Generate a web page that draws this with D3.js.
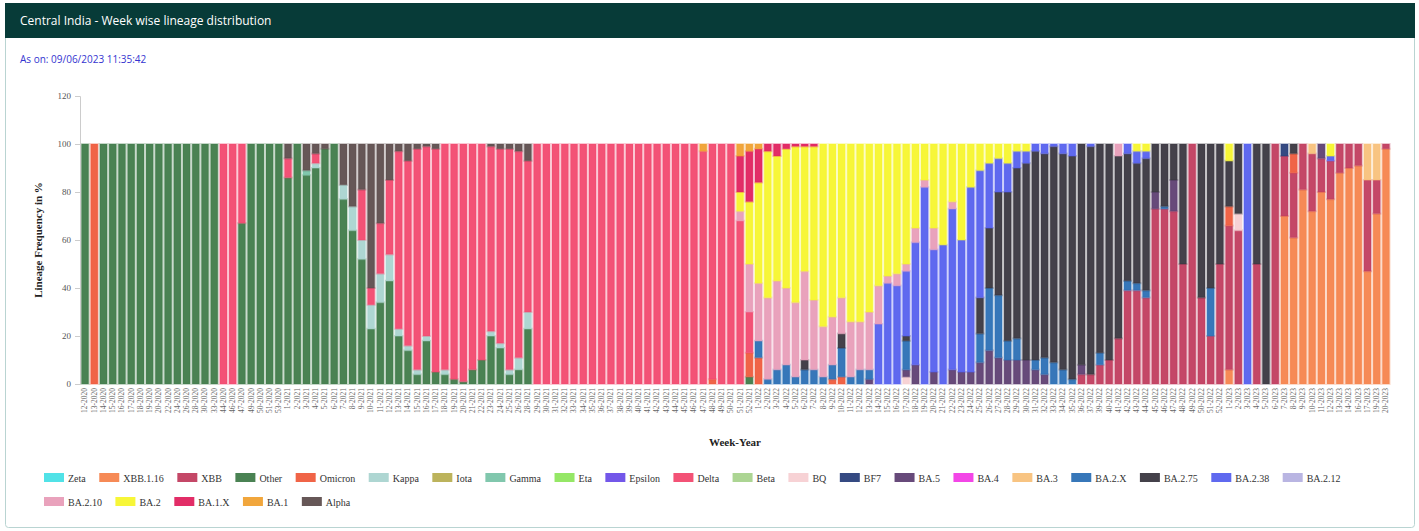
<!DOCTYPE html>
<html>
<head>
<meta charset="utf-8">
<script src="https://cdn.jsdelivr.net/npm/d3@7"></script>
<style>
  body { margin: 0; background: #fff; }
</style>
</head>
<body>
<div id="chart"></div>
<script>
// lineages in legend order (also the stacking order, bottom to top)
const lineages = ["Zeta","XBB.1.16","XBB","Other","Omicron","Kappa","Iota","Gamma","Eta","Epsilon","Delta","Beta","BQ","BF7","BA.5","BA.4","BA.3","BA.2.X","BA.2.75","BA.2.38","BA.2.12","BA.2.10","BA.2","BA.1.X","BA.1","Alpha"];
const lineageColors = ["#46e0e6","#f5834b","#c03c5e","#3f7a48","#ef5a3c","#a9d3cf","#b8ae52","#79c4a8","#8ee65c","#6a4ce8","#f2476d","#a7d28c","#f6cfd2","#283f7a","#5e3f72","#f23ae6","#f8c07a","#2a6fb5","#38353f","#5560ee","#b5b0e0","#e89cb8","#f6f52c","#e0205e","#f0a030","#5c4c4c"];

// week numbers per year (x axis)
const weeks2020 = [12,13,14,15,16,17,18,19,20,22,24,26,28,30,33,44,46,47,49,50,51,53];
const weeks2021 = [1,2,3,4,5,6,7,8,9,10,11,12,13,14,15,16,17,18,19,20,21,22,23,24,25,26,28,29,30,31,32,33,34,35,36,37,38,39,40,41,42,43,44,45,46,47,48,49,50,51,52];
const weeks2022 = [1,2,3,4,5,6,7,8,9,10,11,12,13,14,15,16,17,18,19,20,21,22,23,24,25,26,27,28,29,30,31,32,33,34,35,36,37,39,40,41,42,43,44,45,46,47,48,49,50,51,52];
const weeks2023 = [1,2,3,4,5,6,7,8,9,10,11,12,13,14,16,17,19,20];

// share per week, as [week index, percent]; weeks not listed are 0
const zeta = [];
const xbb116 = [[124,6],[130,70],[131,61],[132,81],[133,72],[134,80],[135,77],[136,88],[137,90],[138,91],[139,47],[140,71],[141,98]];
const xbb = [[108,4],[109,4],[110,8],[111,10],[112,19],[113,39],[114,39],[115,36],[116,73],[117,73],[118,72],[119,50],[120,100],[121,36],[122,20],[123,50],[124,60],[125,64],[127,50],[129,100],[130,25],[131,27],[132,19],[133,24],[134,14],[135,16],[136,12],[137,10],[138,9],[139,38],[140,14],[141,2]];
const other = [[0,100],[2,100],[3,100],[4,100],[5,100],[6,100],[7,100],[8,100],[9,100],[10,100],[11,100],[12,100],[13,100],[14,100],[17,67],[18,100],[19,100],[20,100],[21,100],[22,86],[23,100],[24,87],[25,90],[26,98],[27,100],[28,77],[29,64],[30,52],[31,23],[32,34],[33,43],[34,20],[35,14],[36,4],[37,18],[38,5],[39,4],[40,2],[41,1],[42,6],[43,10],[44,20],[45,15],[46,4],[47,6],[48,23],[72,3]];
const omicron = [[1,100],[68,2],[72,10],[73,11],[81,2],[82,3],[124,8],[131,8]];
const kappa = [[25,2],[28,6],[29,10],[30,8],[31,10],[32,12],[33,11],[34,3],[35,2],[36,2],[37,2],[39,2],[44,2],[45,2],[46,2],[47,5],[48,7]];
const iota = [];
const gamma = [[24,2]];
const eta = [];
const epsilon = [];
const delta = [[15,100],[16,100],[17,33],[22,8],[25,4],[30,21],[31,7],[32,21],[33,31],[34,74],[35,77],[36,92],[37,79],[38,93],[39,94],[40,98],[41,99],[42,94],[43,90],[44,77],[45,81],[46,92],[47,86],[48,63],[49,100],[50,100],[51,100],[52,100],[53,100],[54,100],[55,100],[56,100],[57,100],[58,100],[59,100],[60,100],[61,100],[62,100],[63,100],[64,100],[65,100],[66,100],[67,97],[68,98],[69,100],[70,100],[71,68],[72,17]];
const beta = [];
const bq = [[89,3],[125,7]];
const bf7 = [[130,5]];
const ba5 = [[85,2],[89,3],[90,8],[92,5],[94,6],[95,5],[96,5],[97,9],[98,14],[99,11],[100,10],[101,10],[102,10],[103,6],[104,4],[108,4],[116,7],[118,13],[134,6]];
const ba4 = [];
const ba3 = [[133,4],[139,15],[140,15]];
const ba2x = [[73,7],[74,2],[75,6],[76,8],[77,3],[78,6],[79,6],[80,3],[81,6],[82,12],[83,3],[84,6],[85,4],[89,12],[97,12],[98,26],[99,26],[100,8],[101,9],[103,4],[104,7],[105,9],[106,6],[107,2],[110,5],[113,4],[114,3],[115,3],[117,1],[122,20]];
const ba275 = [[78,4],[82,6],[89,2],[97,15],[98,25],[99,43],[100,62],[101,71],[102,82],[103,87],[104,85],[105,90],[106,90],[107,93],[108,92],[109,95],[110,87],[111,90],[112,76],[113,53],[114,50],[115,55],[116,20],[117,26],[118,15],[119,50],[121,64],[122,60],[123,50],[124,19],[125,29],[127,50],[128,100],[131,4]];
const ba238 = [[86,25],[87,42],[88,41],[89,27],[90,51],[91,82],[92,51],[93,58],[94,67],[95,55],[96,77],[97,53],[98,27],[99,14],[100,12],[101,7],[102,5],[103,3],[104,4],[105,1],[106,4],[107,5],[109,1],[113,4],[114,5],[115,3],[126,100],[135,2]];
const ba212 = [];
const ba210 = [[71,4],[72,20],[73,24],[74,34],[75,37],[76,32],[77,31],[78,37],[79,29],[80,21],[81,20],[82,15],[83,23],[84,20],[85,24],[86,16],[87,3],[88,5],[89,3],[90,6],[91,3],[92,9],[94,3],[112,5]];
const ba2 = [[71,8],[72,26],[73,42],[74,61],[75,52],[76,58],[77,65],[78,52],[79,64],[80,76],[81,72],[82,64],[83,74],[84,74],[85,70],[86,59],[87,55],[88,54],[89,50],[90,35],[91,15],[92,35],[93,42],[94,24],[95,40],[96,18],[97,11],[98,8],[99,6],[100,8],[101,3],[102,3],[114,3],[115,3],[124,7],[135,5]];
const ba1x = [[71,15],[72,21],[73,14],[74,3],[75,5],[76,2],[77,1],[78,1],[79,1]];
const ba1 = [[67,3],[71,5],[72,3],[73,2]];
const alpha = [[22,6],[24,11],[25,4],[26,2],[28,17],[29,26],[30,19],[31,60],[32,33],[33,15],[34,3],[35,7],[36,2],[37,1],[38,2],[44,1],[45,2],[46,2],[47,3],[48,7]];

const seriesList = [zeta,xbb116,xbb,other,omicron,kappa,iota,gamma,eta,epsilon,delta,beta,bq,bf7,ba5,ba4,ba3,ba2x,ba275,ba238,ba212,ba210,ba2,ba1x,ba1,alpha];

// build the week table for d3.stack
const weekLabels = [].concat(
  weeks2020.map(w => w + "-2020"),
  weeks2021.map(w => w + "-2021"),
  weeks2022.map(w => w + "-2022"),
  weeks2023.map(w => w + "-2023")
);
const table = weekLabels.map(l => {
  const row = {week: l};
  lineages.forEach(k => row[k] = 0);
  return row;
});
seriesList.forEach((s, j) => s.forEach(([i, v]) => { table[i][lineages[j]] = v; }));
// each week is shown as percent of 100
table.forEach(row => {
  const tot = d3.sum(lineages, k => row[k]);
  lineages.forEach(k => row[k] = row[k] * 100 / tot);
});

const color = d3.scaleOrdinal().domain(lineages).range(lineageColors);

const svg = d3.select("#chart")
  .append("svg")
  .attr("width", 1419)
  .attr("height", 531)
  .style("font-family", "'Liberation Serif', serif");

// card + header
svg.append("rect")
  .attr("x", 5.5).attr("y", 3.5)
  .attr("width", 1409).attr("height", 524)
  .attr("rx", 3)
  .attr("fill", "#fff")
  .attr("stroke", "#b9d4d2");
svg.append("rect")
  .attr("x", 5).attr("y", 3)
  .attr("width", 1410).attr("height", 35)
  .attr("fill", "#073b38");
svg.append("text")
  .attr("x", 20).attr("y", 25)
  .attr("fill", "#fff")
  .style("font-family", "'Open Sans', sans-serif")
  .style("font-size", "12px")
  .text("Central India - Week wise lineage distribution");
svg.append("text")
  .attr("x", 20).attr("y", 63)
  .attr("fill", "#3434d0")
  .style("font-family", "'Open Sans', sans-serif")
  .style("font-size", "10px")
  .text("As on: 09/06/2023 11:35:42");

// scales
const xScale = d3.scaleBand()
  .domain(weekLabels)
  .range([81, 1390])
  .paddingInner(0.22)
  .paddingOuter(0.05);

const yScale = d3.scaleLinear()
  .domain([0, 120])
  .range([384, 96]);

// bars
const stacked = d3.stack().keys(lineages)(table);

svg.append("g")
  .selectAll("g")
  .data(stacked)
  .enter()
  .append("g")
    .attr("fill", d => color(d.key))
    .attr("stroke", d => color(d.key))
  .selectAll("rect")
  .data(d => d.filter(p => p[1] - p[0] > 0))
  .enter()
  .append("rect")
    .attr("x", d => xScale(d.data.week))
    .attr("y", d => yScale(d[1]))
    .attr("width", xScale.bandwidth())
    .attr("height", d => yScale(d[0]) - yScale(d[1]))
    .attr("fill-opacity", 0.94)
    .attr("stroke-opacity", 0.3)
    .attr("stroke-width", 2);

// y axis
const yAxis = d3.axisLeft(yScale).tickValues([0,20,40,60,80,100,120]).tickSize(5).tickPadding(4);
const gy = svg.append("g")
  .attr("transform", "translate(80,0)")
  .call(yAxis);
gy.select(".domain").attr("stroke", "#ccc");
gy.selectAll(".tick line").attr("stroke", "#ccc");
gy.selectAll(".tick text")
  .attr("fill", "#555")
  .style("font-family", "'Liberation Serif', serif")
  .style("font-size", "9px");

// x axis
const xAxis = d3.axisBottom(xScale).tickSize(0).tickPadding(0);
const gx = svg.append("g")
  .attr("transform", "translate(0,384)")
  .call(xAxis);
gx.select(".domain").remove();
gx.selectAll(".tick text")
  .attr("transform", "rotate(-90)")
  .attr("x", -4)
  .attr("y", 0)
  .attr("dy", "0.32em")
  .attr("text-anchor", "end")
  .attr("fill", "#666")
  .style("font-family", "'Liberation Serif', serif")
  .style("font-size", "7.5px");

// axis titles
svg.append("text")
  .attr("transform", "translate(42,240) rotate(-90)")
  .attr("text-anchor", "middle")
  .style("font-weight", "bold")
  .style("font-size", "11px")
  .attr("fill", "#222")
  .text("Lineage Frequency in %");
svg.append("text")
  .attr("x", 735).attr("y", 446)
  .attr("text-anchor", "middle")
  .style("font-weight", "bold")
  .style("font-size", "11px")
  .attr("fill", "#222")
  .text("Week-Year");

// legend, flowing left to right
const legend = svg.append("g");
let lx = 44, ly = 478;
lineages.forEach(k => {
  const item = legend.append("g");
  item.append("rect")
    .attr("width", 20).attr("height", 9)
    .attr("y", -5)
    .attr("fill", color(k))
    .attr("fill-opacity", 0.94);
  const t = item.append("text")
    .attr("x", 24).attr("y", 3.5)
    .attr("fill", "#333")
    .style("font-size", "10px")
    .text(k);
  const w = 24 + t.node().getComputedTextLength() + 13.5;
  if (lx + w > 1380) { lx = 44; ly += 24; }
  item.attr("transform", "translate(" + lx + "," + ly + ")");
  lx += w;
});
</script>
</body>
</html>
